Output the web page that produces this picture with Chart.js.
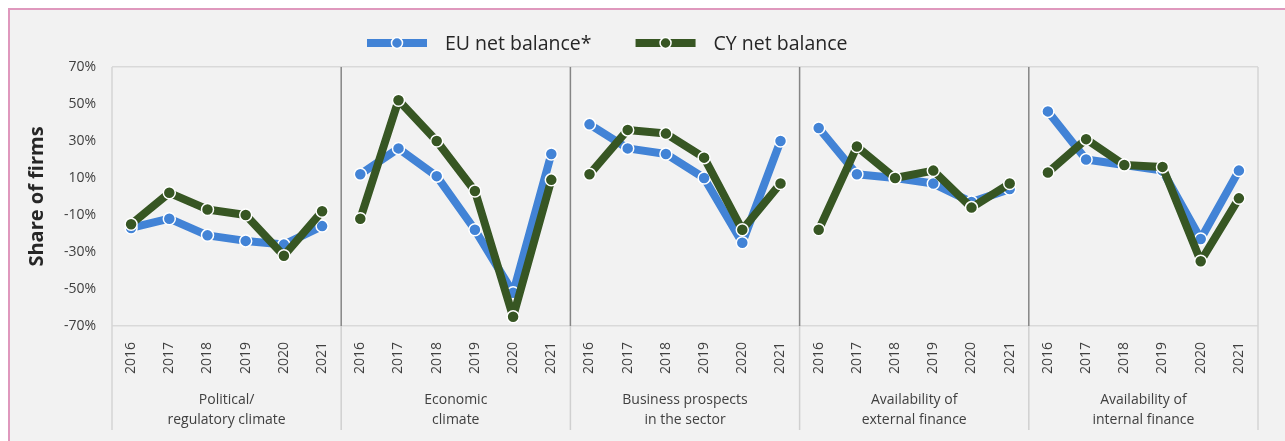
<!DOCTYPE html>
<html>
<head>
<meta charset="utf-8">
<script src="https://cdn.jsdelivr.net/npm/chart.js@4/dist/chart.umd.min.js"></script>
<style>
  html, body { margin: 0; padding: 0; background: #ffffff; }
  #frame {
    position: absolute; left: 8px; top: 8px; right: 0; bottom: 0;
    background: #f2f2f2;
    border-top: 2px solid #df98bd;
    border-left: 2px solid #df98bd;
  }
  #chart { position: absolute; left: 0; top: 0; }
</style>
</head>
<body>
<div id="frame"></div>
<canvas id="chart" width="1285" height="441"></canvas>
<script>
// 表示データ
const groups = [
    ['Political/', 'regulatory climate'],
    ['Economic', 'climate'],
    ['Business prospects', 'in the sector'],
    ['Availability of', 'external finance'],
    ['Availability of', 'internal finance']
];
const years = ['2016', '2017', '2018', '2019', '2020', '2021'];

// 6 values per group, in the group order above
const euNet = [
    -17, -12, -21, -24, -26, -16,
    12, 26, 11, -18, -52, 23,
    39, 26, 23, 10, -25, 30,
    37, 12, 10, 7, -3, 4,
    46, 20, 17, 14, -23, 14
];
const cyNet = [
    -15, 2, -7, -10, -32, -8,
    -12, 52, 30, 3, -65, 9,
    12, 36, 34, 21, -18, 7,
    -18, 27, 10, 14, -6, 7,
    13, 31, 17, 16, -35, -1
];
const yTicks = [-70, -50, -30, -10, 10, 30, 50, 70];

const EU_COLOR = '#4283d6';
const CY_COLOR = '#375623';
const FONT = "'Open Sans', 'Noto Sans', sans-serif";

const labels = [];
groups.forEach(() => years.forEach(y => labels.push(y)));

// グループ間の線は描かない
const hideGap = ctx => (ctx.p0DataIndex % years.length === years.length - 1 ? 'transparent' : undefined);

function series(label, data, color) {
    return {
        label: label,
        data: data,
        borderColor: color,
        backgroundColor: color,
        borderWidth: 8,
        borderJoinStyle: 'round',
        pointRadius: 6,
        pointBorderWidth: 1.5,
        pointBorderColor: '#ffffff',
        pointBackgroundColor: color,
        segment: { borderColor: hideGap }
    };
}

// 区切り線
const separatorPlugin = {
    id: 'separators',
    beforeDatasetsDraw(chart) {
        const { ctx, chartArea, scales } = chart;
        const x = scales.x;
        const bottomEnd = 430;
        ctx.save();
        // outer edges
        ctx.strokeStyle = '#d4d4d4';
        ctx.lineWidth = 1.5;
        [chartArea.left, chartArea.right].forEach(px => {
            ctx.beginPath();
            ctx.moveTo(px, chartArea.top);
            ctx.lineTo(px, bottomEnd);
            ctx.stroke();
        });
        for (let g = 1; g < groups.length; g++) {
            const i = g * years.length;
            const px = (x.getPixelForTick(i - 1) + x.getPixelForTick(i)) / 2;
            ctx.strokeStyle = '#858585';
            ctx.lineWidth = 1.5;
            ctx.beginPath();
            ctx.moveTo(px, chartArea.top);
            ctx.lineTo(px, chartArea.bottom);
            ctx.stroke();
            ctx.strokeStyle = '#d0d0d0';
            ctx.beginPath();
            ctx.moveTo(px, chartArea.bottom);
            ctx.lineTo(px, bottomEnd);
            ctx.stroke();
        }
        ctx.restore();
    }
};

// 凡例（線＋マーカー）
const legendPlugin = {
    id: 'lineLegend',
    afterDraw(chart) {
        const ctx = chart.ctx;
        const y = 43;
        let cursor = 367;
        ctx.save();
        ctx.font = '19.5px ' + FONT;
        ctx.textBaseline = 'middle';
        ctx.textAlign = 'left';
        [chart.data.datasets[1], chart.data.datasets[0]].forEach(ds => {
            ctx.strokeStyle = ds.borderColor;
            ctx.lineWidth = 8;
            ctx.beginPath();
            ctx.moveTo(cursor, y);
            ctx.lineTo(cursor + 60, y);
            ctx.stroke();
            ctx.beginPath();
            ctx.arc(cursor + 30, y, 5.5, 0, Math.PI * 2);
            ctx.fillStyle = ds.borderColor;
            ctx.fill();
            ctx.lineWidth = 1.5;
            ctx.strokeStyle = '#ffffff';
            ctx.stroke();
            ctx.fillStyle = '#262626';
            ctx.fillText(ds.label, cursor + 78, y + 1);
            cursor += 78 + ctx.measureText(ds.label).width + 44;
        });
        ctx.restore();
    }
};

const config = {
    type: 'line',
    data: {
        labels: labels,
        // CY first so it is drawn on top
        datasets: [
            series('CY net balance', cyNet, CY_COLOR),
            series('EU net balance*', euNet, EU_COLOR)
        ]
    },
    options: {
        responsive: false,
        animation: false,
        layout: { padding: { left: 0, right: 27, top: 67, bottom: 0 } },
        plugins: {
            legend: { display: false },
            tooltip: { enabled: false }
        },
        scales: {
            x: {
                type: 'category',
                position: 'bottom',
                offset: true,
                grid: { display: false },
                border: { display: false },
                ticks: {
                    autoSkip: false,
                    minRotation: 90,
                    maxRotation: 90,
                    padding: 8,
                    color: '#404040',
                    font: { family: FONT, size: 14 }
                },
                afterFit(scale) { scale.height = 54; }
            },
            x2: {
                type: 'category',
                position: 'bottom',
                labels: groups,
                offset: true,
                grid: { display: false },
                border: { display: false },
                ticks: {
                    autoSkip: false,
                    maxRotation: 0,
                    padding: 2,
                    color: '#404040',
                    font: { family: FONT, size: 14, lineHeight: 1.45 }
                },
                afterFit(scale) { scale.height = 61; }
            },
            y: {
                min: -70,
                max: 70,
                afterBuildTicks(scale) {
                    scale.ticks = yTicks.map(v => ({ value: v }));
                },
                grid: {
                    drawTicks: false,
                    lineWidth: 1.5,
                    color: c => {
                        if (c.tick.value === 0) return '#bfbfbf';
                        if (c.tick.value === 70 || c.tick.value === -70) return '#d9d9d9';
                        return 'transparent';
                    }
                },
                border: { display: false },
                ticks: {
                    padding: 16,
                    color: '#404040',
                    font: { family: FONT, size: 14 },
                    callback: v => v + '%'
                },
                title: {
                    display: true,
                    text: 'Share of firms',
                    color: '#262626',
                    font: { family: FONT, size: 20, weight: 'bold' },
                    padding: { top: 25, bottom: 0 }
                },
                afterFit(scale) { scale.width = 112; }
            }
        }
    },
    plugins: [separatorPlugin, legendPlugin]
};

new Chart(document.getElementById('chart'), config);
</script>
</body>
</html>
